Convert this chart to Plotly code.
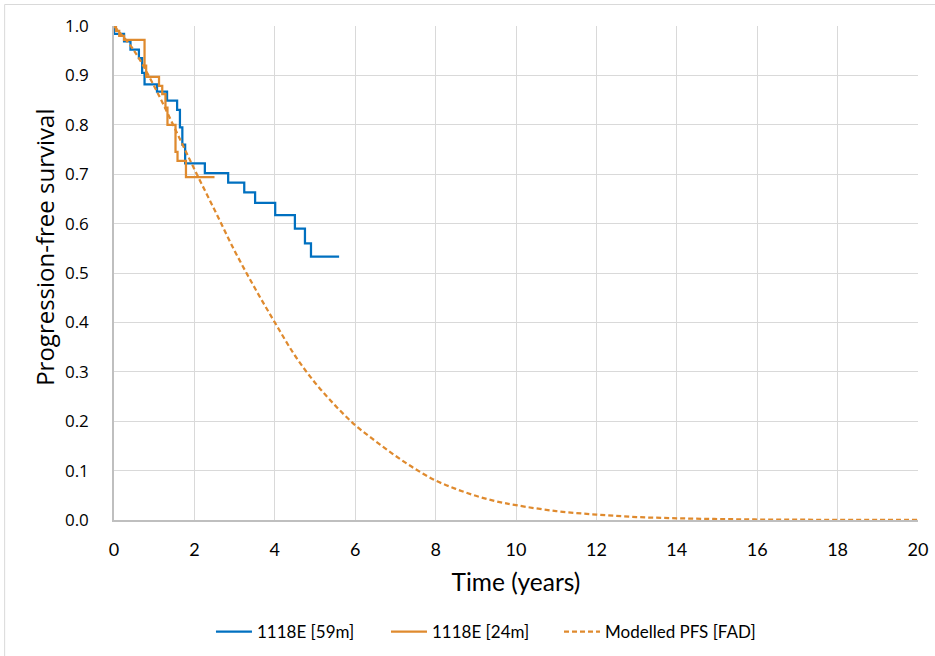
import plotly.graph_objects as go

# Kaplan-Meier style step data (years, progression-free survival)
t_59m = [0, 0, 0.25, 0.41, 0.62, 0.70, 0.76, 1.07, 1.32, 1.57, 1.64, 1.70, 1.77, 2.26, 2.84, 3.24, 3.51, 4.01, 4.50, 4.75, 4.90, 5.60]
s_59m = [1.0, 0.984, 0.969, 0.952, 0.935, 0.905, 0.882, 0.867, 0.849, 0.830, 0.795, 0.760, 0.722, 0.702, 0.683, 0.663, 0.642, 0.617, 0.590, 0.560, 0.533, 0.533]

t_24m = [0, 0.05, 0.13, 0.25, 0.76, 0.80, 1.12, 1.20, 1.28, 1.33, 1.53, 1.58, 1.79, 2.50]
s_24m = [1.0, 0.99, 0.98, 0.972, 0.92, 0.897, 0.879, 0.862, 0.835, 0.80, 0.745, 0.727, 0.694, 0.694]

# Modelled curve
t_model = [0, 0.5, 1.0, 1.5, 2.0, 2.5, 3.0, 3.5, 4.0, 4.5, 5.0, 5.5, 6.0, 6.5, 7.0, 7.5, 8.0, 8.5, 9.0, 9.5,
           10, 11, 12, 13, 14, 15, 16, 17, 18, 19, 20]
s_model = [1.0, 0.95, 0.878, 0.795, 0.71, 0.628, 0.545, 0.47, 0.40, 0.333, 0.278, 0.232, 0.192, 0.16, 0.13, 0.103,
           0.08, 0.063, 0.049, 0.038, 0.03, 0.018, 0.011, 0.006, 0.0035, 0.002, 0.001, 0.0006, 0.0003, 0.0002, 0.0001]

x_ticks = [0, 2, 4, 6, 8, 10, 12, 14, 16, 18, 20]
y_ticks = [0.0, 0.1, 0.2, 0.3, 0.4, 0.5, 0.6, 0.7, 0.8, 0.9, 1.0]

BLUE = "#0070C0"
ORANGE = "#DF8A2E"
NARROW = "Lato, sans-serif"
WIDE = "Open Sans, sans-serif"

fig = go.Figure()
fig.add_trace(go.Scatter(x=t_59m, y=s_59m, mode="lines", line=dict(color=BLUE, width=2.25, shape="hv"),
                         name="1118E [59m]", legend="legend"))
fig.add_trace(go.Scatter(x=t_24m, y=s_24m, mode="lines", line=dict(color=ORANGE, width=2.25, shape="hv"),
                         name="1118E [24m]", legend="legend2"))
fig.add_trace(go.Scatter(x=t_model, y=s_model, mode="lines",
                         line=dict(color=ORANGE, width=2.25, dash="5px,3px", shape="spline", smoothing=1.0),
                         name="Modelled PFS [FAD]", legend="legend3"))

leg_common = dict(orientation="h", xanchor="left", y=-0.2267, yanchor="middle",
                  font=dict(family=NARROW, size=17, color="#000000"),
                  itemwidth=36, bgcolor="rgba(0,0,0,0)", borderwidth=0)

fig.update_layout(
    width=935, height=656,
    margin=dict(l=114, r=17, t=26, b=136, autoexpand=False),
    paper_bgcolor="white", plot_bgcolor="white",
    showlegend=True,
    legend=dict(x=0.1206, **leg_common),
    legend2=dict(x=0.3383, **leg_common),
    legend3=dict(x=0.5535, **leg_common),
    xaxis=dict(range=[0, 20], tickvals=x_ticks, ticktext=[str(v) for v in x_ticks],
               showgrid=True, gridcolor="#d9d9d9", gridwidth=1, zeroline=False,
               showline=True, linecolor="#bfbfbf", linewidth=1.5, ticks="",
               ticklabelstandoff=13, automargin=False,
               tickfont=dict(family=NARROW, size=18, color="#000000"),
               title=dict(text="Time (years)", font=dict(family=NARROW, size=24.5, color="#000000"), standoff=15)),
    yaxis=dict(range=[0, 1.0], tickvals=y_ticks, ticktext=[f"{v:.1f}" for v in y_ticks],
               showgrid=True, gridcolor="#d9d9d9", gridwidth=1, zeroline=False,
               showline=True, linecolor="#bfbfbf", linewidth=1.5, ticks="",
               ticklabelstandoff=20, automargin=False,
               tickfont=dict(family=WIDE, size=17, color="#000000")),
)

fig.add_annotation(text="Progression-free survival", xref="paper", yref="paper",
                   x=-0.0858, y=0.551, xanchor="center", yanchor="middle", textangle=-90,
                   showarrow=False, font=dict(family=WIDE, size=24, color="#000000"))

fig.add_shape(type="rect", xref="paper", yref="paper", x0=-0.136, x1=1.03, y0=-0.29, y1=1.0435,
              line=dict(color="#d9d9d9", width=1), fillcolor="rgba(0,0,0,0)", layer="below")

fig.write_html("out.html")
